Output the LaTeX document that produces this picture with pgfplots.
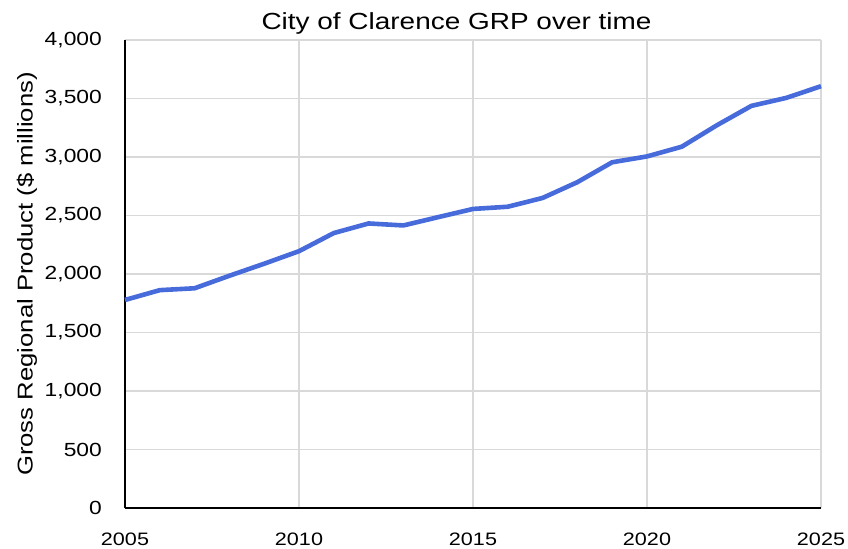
\documentclass[border=0pt]{standalone}
\usepackage{fontspec}
\setmainfont{Liberation Sans}[FakeStretch=1.2]
\usepackage{pgfplots}
\pgfplotsset{compat=1.18}
\definecolor{linecol}{RGB}{72,107,220}
\definecolor{gridcol}{RGB}{217,217,217}
\begin{document}
\begin{tikzpicture}
\useasboundingbox (0,0) rectangle (848bp,549bp);
\begin{axis}[
  at={(125bp,41bp)}, anchor=south west,
  width=696bp, height=468bp, scale only axis,
  xmin=2005, xmax=2025, ymin=0, ymax=4000,
  xtick={2005,2010,2015,2020,2025},
  ytick={0,500,1000,1500,2000,2500,3000,3500,4000},
  grid=major,
  major grid style={draw=gridcol, line width=1.4bp},
  axis x line=bottom, axis y line=left,
  axis line style={-, black, line width=1.8bp},
  major tick length=0pt,
  /pgf/number format/assume math mode=true,
  yticklabel style={/pgf/number format/1000 sep={,}, font=\fontsize{19bp}{22bp}\selectfont, inner sep=0pt, anchor=east, xshift=-23bp},
  xticklabel style={/pgf/number format/1000 sep={}, font=\fontsize{18bp}{21bp}\selectfont, inner sep=0pt, anchor=north, yshift=-25bp},
  clip=false,
]
\addplot[linecol, line width=4.6bp, line join=round] coordinates {
(2005,1778) (2006,1862) (2007,1878) (2008,1985) (2009,2088) (2010,2195)
(2011,2350) (2012,2432) (2013,2415) (2014,2486) (2015,2556) (2016,2575)
(2017,2650) (2018,2785) (2019,2955) (2020,3005) (2021,3088) (2022,3270)
(2023,3437) (2024,3505) (2025,3605)
};
\end{axis}
\node[anchor=base, inner sep=0pt, font=\fontsize{23.3bp}{26bp}\selectfont] at (456.5bp,519.7bp) {City of Clarence GRP over time};
\node[anchor=base, rotate=90, inner sep=0pt, font=\fontsize{21.4bp}{25bp}\selectfont] at (32.5bp,275bp) {Gross Regional Product (\$ millions)};
\end{tikzpicture}
\end{document}
